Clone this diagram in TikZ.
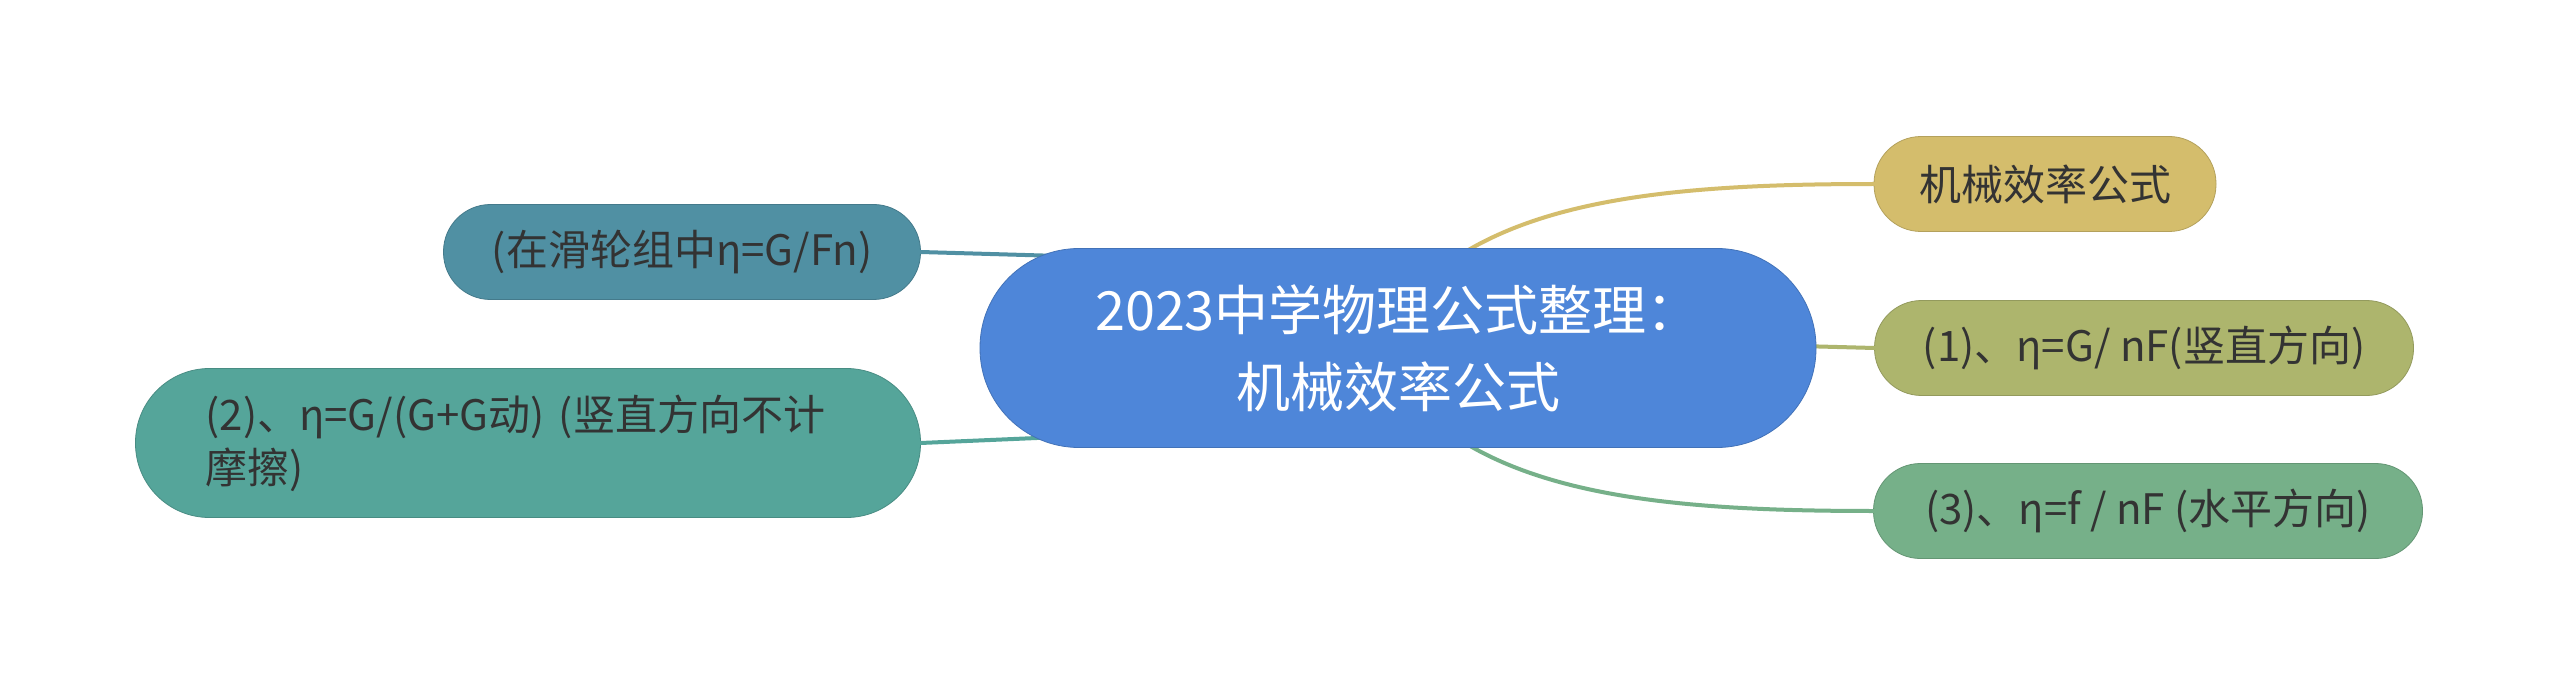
\documentclass[tikz,border=0pt]{standalone}
\usepackage{fontspec}
\setmainfont{Noto Sans CJK SC}
\begin{document}
\begin{tikzpicture}[x=1pt,y=-1pt,
  every node/.style={inner sep=0pt,outer sep=0pt,font=\fontsize{42}{53}\selectfont,text=textgray},
  pill/.style={draw=#1!85!black,line width=0.8pt,fill=#1,rounded corners=47pt,minimum height=95pt},
  link/.style={line width=4pt,draw=#1,line cap=round}]
\definecolor{textgray}{HTML}{333333}
\definecolor{cblue}{HTML}{4E86D9}
\definecolor{ctan}{HTML}{D4BD6C}
\definecolor{colive}{HTML}{ADB56D}
\definecolor{cgreen}{HTML}{76B089}
\definecolor{cteal}{HTML}{5090A3}
\definecolor{cteal2}{HTML}{55A59A}
\useasboundingbox[fill=white] (0,0) rectangle (2560,695);

% connector end points on the central node
\coordinate (c1) at (1465,252);
\coordinate (c2) at (1800,346);
\coordinate (c3) at (1465,443);
\coordinate (cl1) at (1060,256);
\coordinate (cl2) at (1060,437);

\node[pill=ctan,minimum width=342pt] (t) at (2045,184) {机械效率公式};
\node[pill=colive,minimum width=539pt] (m) at (2144,348) {(1)、η=G/ nF(竖直方向)};
\node[pill=cgreen,minimum width=549pt] (b) at (2148,511) {(3)、η=f / nF (水平方向)};
\node[pill=cteal,minimum width=477pt] (l1) at (682,252) {(在滑轮组中η=G/Fn)};
\node[pill=cteal2,rounded corners=74pt,minimum height=149pt,text width=645pt,
  inner xsep=70pt,align=left] (l2) at (528,443)
  {(2)、η=G/(G+G动) (竖直方向不计\\摩擦)};

\draw[link=ctan] (c1) .. controls (1560,195) and (1700,184) .. (t.west);
\draw[link=colive] (c2) -- (m.west);
\draw[link=cgreen] (c3) .. controls (1560,500) and (1700,511) .. (b.west);
\draw[link=cteal] (l1.east) -- (cl1);
\draw[link=cteal2] (l2.east) -- (cl2);

\node[pill=cblue,rounded corners=99pt,minimum width=836pt,minimum height=199pt,
  font=\fontsize{54}{77}\selectfont,text=white,align=center] (c) at (1398,348)
  {2023中学物理公式整理：\\机械效率公式};
\end{tikzpicture}
\end{document}
